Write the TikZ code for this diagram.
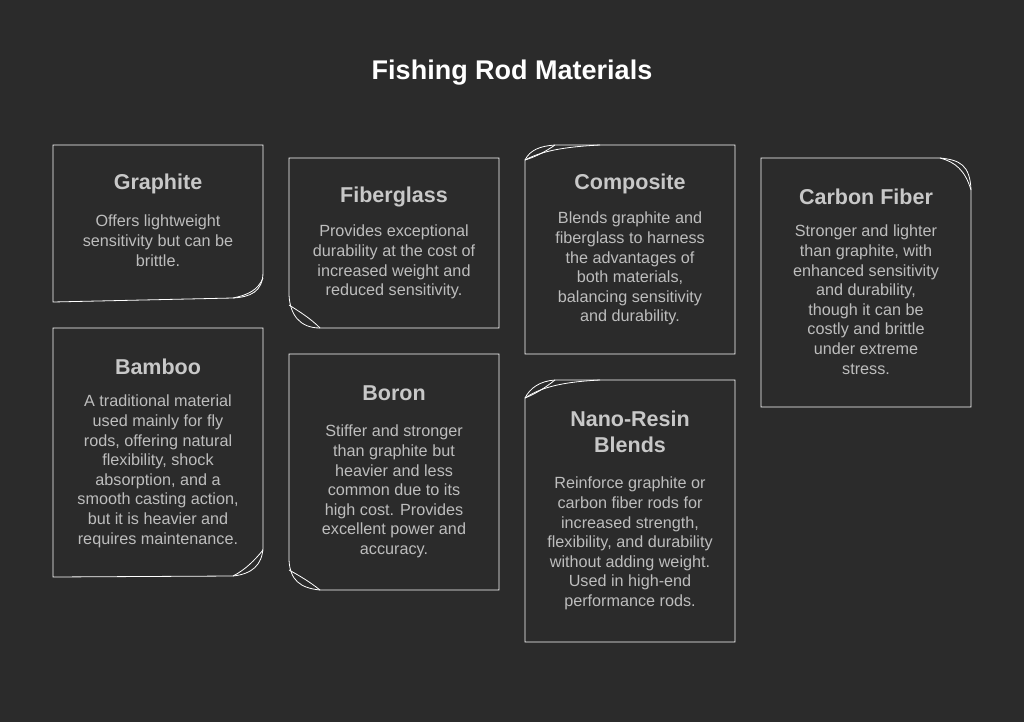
\documentclass[tikz,border=0pt]{standalone}
\usepackage{fontspec}
\setmainfont{Liberation Sans}
\definecolor{bg}{HTML}{2B2B2B}
\definecolor{hd}{HTML}{C8C8C8}
\definecolor{bd}{HTML}{BDBDBD}
\begin{document}
\begin{tikzpicture}[x=1pt,y=-1pt,
  card/.style={draw=white,line width=0.8pt,fill=bg},
  curl/.style={draw=white,line width=0.8pt},
  hdg/.style={text=hd,font=\fontsize{21.5}{26}\selectfont\bfseries,align=center,anchor=center},
  bdy/.style={text=bd,font=\fontsize{16.2}{19.6}\selectfont,align=center,anchor=north,inner sep=0pt}]
\fill[bg] (0,0) rectangle (1024,722);
\useasboundingbox (0,0) rectangle (1024,722);
\node[text=white,font=\fontsize{27}{32}\selectfont\bfseries] (title) at (512,73) {Fishing Rod Materials};
% Graphite: bottom-right curl
\draw[card] (53,145) -- (263,145) -- (263,272) .. controls (263,292) and (250,297) .. (233,298) -- (53,302) -- cycle;
\draw[curl] (233,298) .. controls (248,295) and (258,290) .. (263,278);
% Fiberglass: bottom-left curl
\draw[card] (289,158) -- (499,158) -- (499,328) -- (320,328) .. controls (300,328) and (290,315) .. (289,295) -- cycle;
\draw[curl] (320,328) .. controls (310,318) and (300,312) .. (289,305);
% Composite: top-left curl
\draw[card] (555,145) -- (735,145) -- (735,354) -- (525,354) -- (525,160) .. controls (530,150) and (540,146) .. (555,145) -- cycle;
\draw[curl] (525,160) .. controls (535,157) and (545,152) .. (555,145);
\draw[curl] (525,160) .. controls (540,152) and (560,147) .. (600,145);
% Carbon Fiber: top-right curl
\draw[card] (761,158) -- (940,158) .. controls (960,160) and (970,165) .. (971,190) -- (971,407) -- (761,407) -- cycle;
\draw[curl] (940,158) .. controls (955,162) and (965,170) .. (971,190);
% Bamboo: bottom-right curl
\draw[card] (53,328) -- (263,328) -- (263,548) .. controls (262,565) and (252,574) .. (233,576) -- (53,577) -- cycle;
\draw[curl] (233,576) .. controls (245,570) and (255,560) .. (263,550);
% Boron: bottom-left curl
\draw[card] (289,354) -- (499,354) -- (499,590) -- (320,590) .. controls (300,588) and (290,580) .. (289,560) -- cycle;
\draw[curl] (320,590) .. controls (310,582) and (300,576) .. (289,570);
% Nano-Resin: top-left curl
\draw[card] (555,380) -- (735,380) -- (735,642) -- (525,642) -- (525,398) .. controls (530,388) and (540,381) .. (555,380) -- cycle;
\draw[curl] (525,398) .. controls (535,394) and (545,388) .. (555,380);
\draw[curl] (525,398) .. controls (540,388) and (560,382) .. (600,380);
% texts
\node[hdg] (h1) at (158,184) {Graphite};
\node[bdy] (b1) at (158,215) {Offers lightweight\\sensitivity but can be\\brittle.};
\node[hdg] (h2) at (394,197) {Fiberglass};
\node[bdy] (b2) at (394,225) {Provides exceptional\\durability at the cost of\\increased weight and\\reduced sensitivity.};
\node[hdg] (h3) at (630,184) {Composite};
\node[bdy] (b3) at (630,212) {Blends graphite and\\fiberglass to harness\\the advantages of\\both materials,\\balancing sensitivity\\and durability.};
\node[hdg] (h4) at (866,197) {Carbon Fiber};
\node[bdy] (b4) at (866,225) {Stronger and lighter\\than graphite, with\\enhanced sensitivity\\and durability,\\though it can be\\costly and brittle\\under extreme\\stress.};
\node[hdg] (h5) at (158,367) {Bamboo};
\node[bdy] (b5) at (158,395) {A traditional material\\used mainly for fly\\rods, offering natural\\flexibility, shock\\absorption, and a\\smooth casting action,\\but it is heavier and\\requires maintenance.};
\node[hdg] (h6) at (394,393) {Boron};
\node[bdy] (b6) at (394,425) {Stiffer and stronger\\than graphite but\\heavier and less\\common due to its\\high cost. Provides\\excellent power and\\accuracy.};
\node[hdg] (h7) at (630,432) {Nano-Resin\\Blends};
\node[bdy] (b7) at (630,477) {Reinforce graphite or\\carbon fiber rods for\\increased strength,\\flexibility, and durability\\without adding weight.\\Used in high-end\\performance rods.};
\end{tikzpicture}
\end{document}
